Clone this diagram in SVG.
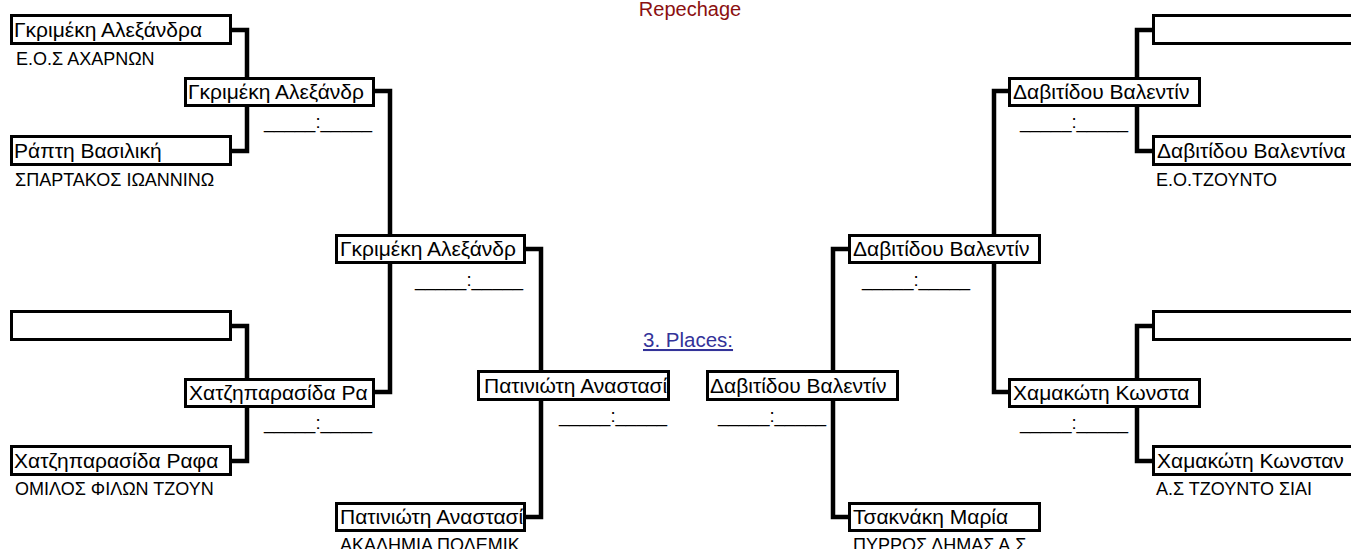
<svg xmlns="http://www.w3.org/2000/svg" width="1351" height="549" viewBox="0 0 1351 549">
<style>
.box{fill:#fff;stroke:#000;stroke-width:3}
.conn{fill:none;stroke:#000;stroke-width:4.5;stroke-linejoin:miter}
text{font-family:"Liberation Sans",Arial,sans-serif;fill:#000}
.name{font-size:21px}
.club{font-size:18px}
.score{font-size:18.5px}
.title{font-size:20px;fill:#8b1010}
.link{font-size:20.5px;fill:#333399;text-decoration:underline}
</style>
<rect width="1351" height="549" fill="#fff"/>
<g id="connectors">
<path class="conn" d="M232,30 H247 V151 H232"/>
<path class="conn" d="M232,326 H247 V461 H232"/>
<path class="conn" d="M375,91 H390 V392 H375"/>
<path class="conn" d="M525,249 H541 V517 H525"/>
<path class="conn" d="M1152,30 H1137 V151 H1152"/>
<path class="conn" d="M1152,326 H1137 V461 H1152"/>
<path class="conn" d="M1008,91 H994 V392 H1008"/>
<path class="conn" d="M848,249 H833 V517 H848"/>
</g>
<text class="title" x="690" y="16" text-anchor="middle">Repechage</text>
<text class="link" x="643" y="347">3. Places:</text>
<g id="L1"><rect class="box" x="11.5" y="15.5" width="219" height="28"/><text class="name" x="14" y="37">Γκριμέκη Αλεξάνδρα</text><text class="club" x="16" y="65">Ε.Ο.Σ ΑΧΑΡΝΩΝ</text></g>
<g id="L2"><rect class="box" x="185.5" y="78.5" width="188" height="27"/><text class="name" x="188" y="99">Γκριμέκη Αλεξάνδρ</text><text class="score" x="372" y="128" text-anchor="end">_____:_____</text></g>
<g id="L3"><rect class="box" x="11.5" y="136.5" width="219" height="28"/><text class="name" x="14" y="158">Ράπτη Βασιλική</text><text class="club" x="15" y="186">ΣΠΑΡΤΑΚΟΣ ΙΩΑΝΝΙΝΩ</text></g>
<g id="L4"><rect class="box" x="336.5" y="235.5" width="188" height="27"/><text class="name" x="340" y="256">Γκριμέκη Αλεξάνδρ</text><text class="score" x="523" y="286" text-anchor="end">_____:_____</text></g>
<g id="L5"><rect class="box" x="11.5" y="311.5" width="219" height="28"/></g>
<g id="L6"><rect class="box" x="185.5" y="379.5" width="188" height="27"/><text class="name" x="189" y="400">Χατζηπαρασίδα Ρα</text><text class="score" x="372" y="429" text-anchor="end">_____:_____</text></g>
<g id="L7"><rect class="box" x="11.5" y="446.5" width="219" height="28"/><text class="name" x="14" y="468">Χατζηπαρασίδα Ραφα</text><text class="club" x="15" y="495">ΟΜΙΛΟΣ ΦΙΛΩΝ ΤΖΟΥΝ</text></g>
<g id="L8"><rect class="box" x="478.5" y="371.5" width="190" height="28"/><text class="name" x="484" y="393">Πατινιώτη Αναστασί</text><text class="score" x="667" y="422" text-anchor="end">_____:_____</text></g>
<g id="L9"><rect class="box" x="336.5" y="503.5" width="188" height="27"/><text class="name" x="340" y="524">Πατινιώτη Αναστασί</text><text class="club" x="340" y="551">ΑΚΑΔΗΜΙΑ ΠΟΛΕΜΙΚ</text></g>
<g id="R1"><rect class="box" x="1153.5" y="15.5" width="210" height="28"/></g>
<g id="R2"><rect class="box" x="1009.5" y="78.5" width="190" height="27"/><text class="name" x="1013" y="99">Δαβιτίδου Βαλεντίν</text><text class="score" x="1020" y="128">_____:_____</text></g>
<g id="R3"><rect class="box" x="1153.5" y="136.5" width="210" height="28"/><text class="name" x="1157" y="158">Δαβιτίδου Βαλεντίνα</text><text class="club" x="1156" y="186">Ε.Ο.ΤΖΟΥΝΤΟ</text></g>
<g id="R4"><rect class="box" x="849.5" y="235.5" width="190" height="27"/><text class="name" x="853" y="256">Δαβιτίδου Βαλεντίν</text><text class="score" x="862" y="286">_____:_____</text></g>
<g id="R5"><rect class="box" x="1153.5" y="311.5" width="210" height="28"/></g>
<g id="R6"><rect class="box" x="1009.5" y="379.5" width="190" height="27"/><text class="name" x="1013" y="400">Χαμακώτη Κωνστα</text><text class="score" x="1020" y="429">_____:_____</text></g>
<g id="R7"><rect class="box" x="1153.5" y="446.5" width="210" height="28"/><text class="name" x="1157" y="468">Χαμακώτη Κωνσταν</text><text class="club" x="1156" y="495">Α.Σ ΤΖΟΥΝΤΟ ΣΙΑΙ</text></g>
<g id="R8"><rect class="box" x="707.5" y="371.5" width="190" height="28"/><text class="name" x="710" y="393">Δαβιτίδου Βαλεντίν</text><text class="score" x="718" y="422">_____:_____</text></g>
<g id="R9"><rect class="box" x="849.5" y="503.5" width="190" height="27"/><text class="name" x="853" y="524">Τσακνάκη Μαρία</text><text class="club" x="853" y="551">ΠΥΡΡΟΣ ΔΗΜΑΣ Α.Σ.</text></g>
</svg>
